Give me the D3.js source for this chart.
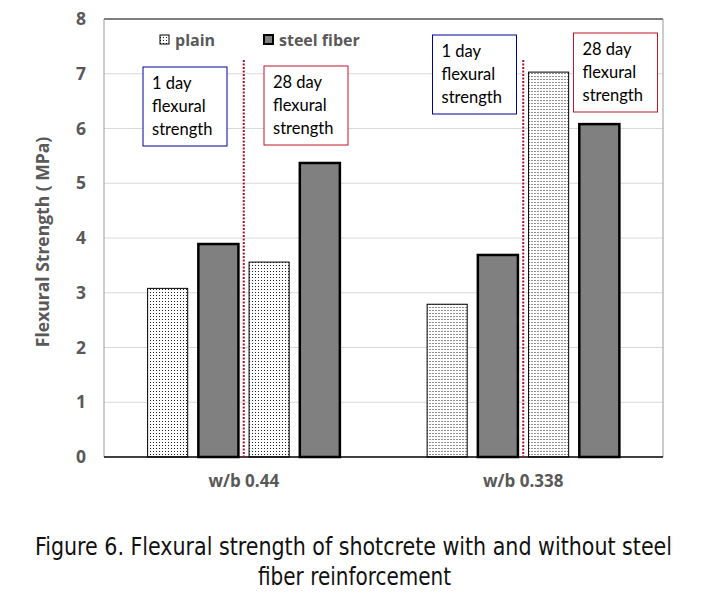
<!DOCTYPE html>
<html><head><meta charset="utf-8">
<script src="https://cdn.jsdelivr.net/npm/d3@7"></script>
<style>body{margin:0;background:#fff}</style>
</head><body>
<svg id="c" width="711" height="600"></svg>
<script>
const categories = ["w/b 0.44", "w/b 0.338"];
const seriesKeys = ["plain1", "steel1", "plain28", "steel28"];
const plain1d = [3.08, 2.79];
const steel1d = [3.89, 3.69];
const plain28d = [3.56, 7.03];
const steel28d = [5.37, 6.08];
const yTicks = [0, 1, 2, 3, 4, 5, 6, 7, 8];
const legendLabels = ["plain", "steel fiber"];
const boxLines1 = ["1 day", "flexural", "strength"];
const boxLines28 = ["28 day", "flexural", "strength"];
const captionLines = ["Figure 6. Flexural strength of shotcrete with and without steel", "fiber reinforcement"];

const svg = d3.select("#c");
const L = 104, R = 663, T = 19, B = 457;
const x0 = d3.scaleBand().domain(categories).range([L, R]).padding(0);
const x1 = d3.scaleBand().domain(seriesKeys).range([0, x0.bandwidth()]).paddingInner(0.21).paddingOuter(0.86);
const y = d3.scaleLinear().domain([0, 8]).range([B, T]);
const labFont = "'Open Sans', 'DejaVu Sans', sans-serif";

const defs = svg.append("defs");
const pat = defs.append("pattern").attr("id", "dots").attr("patternUnits", "userSpaceOnUse")
  .attr("width", 3).attr("height", 3);
pat.append("rect").attr("width", 3).attr("height", 3).attr("fill", "#fff");
pat.append("rect").attr("x", 1).attr("y", 1).attr("width", 1).attr("height", 1).attr("fill", "#222");

// grid
svg.append("g").selectAll("line").data(yTicks.filter(d => d > 0 && d < 8)).join("line")
  .attr("x1", L).attr("x2", R).attr("y1", d => y(d)).attr("y2", d => y(d))
  .attr("stroke", "#d9d9d9").attr("stroke-width", 1);
// frame
svg.append("line").attr("x1", L).attr("x2", R).attr("y1", y(8)).attr("y2", y(8)).attr("stroke", "#000").attr("stroke-width", 1.2);
svg.append("line").attr("x1", L).attr("x2", L).attr("y1", y(8)).attr("y2", B).attr("stroke", "#999").attr("stroke-width", 1);
svg.append("line").attr("x1", R).attr("x2", R).attr("y1", y(8)).attr("y2", B).attr("stroke", "#999").attr("stroke-width", 1);

// y tick labels
const yAxis = d3.axisLeft(y).tickValues(yTicks).tickSize(0).tickPadding(18).tickFormat(d3.format("d"));
const ya = svg.append("g").attr("transform", `translate(${L},0)`).call(yAxis)
  .attr("font-size", null).attr("font-family", null);
ya.select(".domain").remove();
ya.selectAll("text").style("font-family", labFont).style("font-weight", "bold")
  .style("font-size", "17.5px").attr("fill", "#595959");

// x labels
const xAxis = d3.axisBottom(x0).tickSize(0).tickPadding(18);
const xa = svg.append("g").attr("transform", `translate(0,${B})`).call(xAxis)
  .attr("font-size", null).attr("font-family", null);
xa.select(".domain").remove();
xa.selectAll("text").style("font-family", labFont).style("font-weight", "bold")
  .style("font-size", "17px").attr("fill", "#595959");

// bars
const rows = categories.map((c, i) => ({cat: c, vals: [
  {k: "plain1", v: plain1d[i]}, {k: "steel1", v: steel1d[i]},
  {k: "plain28", v: plain28d[i]}, {k: "steel28", v: steel28d[i]}]}));
const g = svg.append("g").selectAll("g").data(rows).join("g")
  .attr("transform", d => `translate(${x0(d.cat)},0)`);
g.selectAll("rect").data(d => d.vals).join("rect")
  .attr("x", d => x1(d.k)).attr("width", x1.bandwidth())
  .attr("y", d => y(d.v)).attr("height", d => B - y(d.v))
  .attr("fill", d => d.k.startsWith("plain") ? "url(#dots)" : "#808080")
  .attr("stroke", "#000").attr("stroke-width", d => d.k.startsWith("plain") ? 1 : 2.5);

// baseline
svg.append("line").attr("x1", L).attr("x2", R).attr("y1", B).attr("y2", B).attr("stroke", "#000").attr("stroke-width", 1.5);

// red dotted separators
svg.append("g").selectAll("line").data(categories).join("line")
  .attr("x1", d => x0(d) + x0.bandwidth() / 2).attr("x2", d => x0(d) + x0.bandwidth() / 2)
  .attr("y1", y(7.25)).attr("y2", B)
  .attr("stroke", "#b01030").attr("stroke-width", 2).attr("stroke-dasharray", "2,1.5");

// annotation boxes
const boxes = [
  {cat: 0, lines: boxLines1, color: "#0000a0", bx: 39, by: 67},
  {cat: 0, lines: boxLines28, color: "#c0142c", bx: 160, by: 66},
  {cat: 1, lines: boxLines1, color: "#0000a0", bx: 49, by: 35},
  {cat: 1, lines: boxLines28, color: "#c0142c", bx: 190, by: 33}
];
boxes.forEach(b => {
  const gx = x0(categories[b.cat]) + b.bx;
  const bg = svg.append("g").attr("transform", `translate(${gx},${b.by})`);
  bg.append("rect").attr("width", 84).attr("height", 79).attr("fill", "#fff")
    .attr("stroke", b.color).attr("stroke-width", 1);
  bg.selectAll("text").data(b.lines).join("text")
    .attr("x", 9).attr("y", (d, i) => 22 + i * 23)
    .attr("font-family", "Lato, 'Open Sans', sans-serif").attr("font-size", 16.5).attr("fill", "#000")
    .text(d => d);
});

// legend
const leg = [{label: legendLabels[0], plain: true, x: 160}, {label: legendLabels[1], plain: false, x: 264}];
leg.forEach(l => {
  svg.append("rect").attr("x", l.x).attr("y", 35).attr("width", 9).attr("height", 9)
    .attr("fill", l.plain ? "url(#dots)" : "#808080").attr("stroke", "#000").attr("stroke-width", l.plain ? 1 : 2);
  svg.append("text").attr("x", l.x + 15).attr("y", 46).style("font-family", labFont)
    .style("font-weight", "bold").style("font-size", "16px").attr("fill", "#595959").text(l.label);
});

// y title
svg.append("text").attr("transform", `translate(49,${(T + B) / 2 + 4}) rotate(-90)`)
  .attr("text-anchor", "middle").style("font-family", labFont).style("font-weight", "bold")
  .style("font-size", "17.5px").attr("fill", "#595959").text("Flexural Strength ( MPa)");

// caption
svg.append("text").attr("x", 35).attr("y", 555).attr("textLength", 637).attr("lengthAdjust", "spacingAndGlyphs")
  .attr("font-family", "'Liberation Sans Narrow', 'DejaVu Sans Condensed', sans-serif").attr("font-size", 24)
  .attr("fill", "#111").text(captionLines[0]);
svg.append("text").attr("x", 258).attr("y", 585).attr("textLength", 193).attr("lengthAdjust", "spacingAndGlyphs")
  .attr("font-family", "'Liberation Sans Narrow', 'DejaVu Sans Condensed', sans-serif").attr("font-size", 24)
  .attr("fill", "#111").text(captionLines[1]);
</script>
</body></html>
